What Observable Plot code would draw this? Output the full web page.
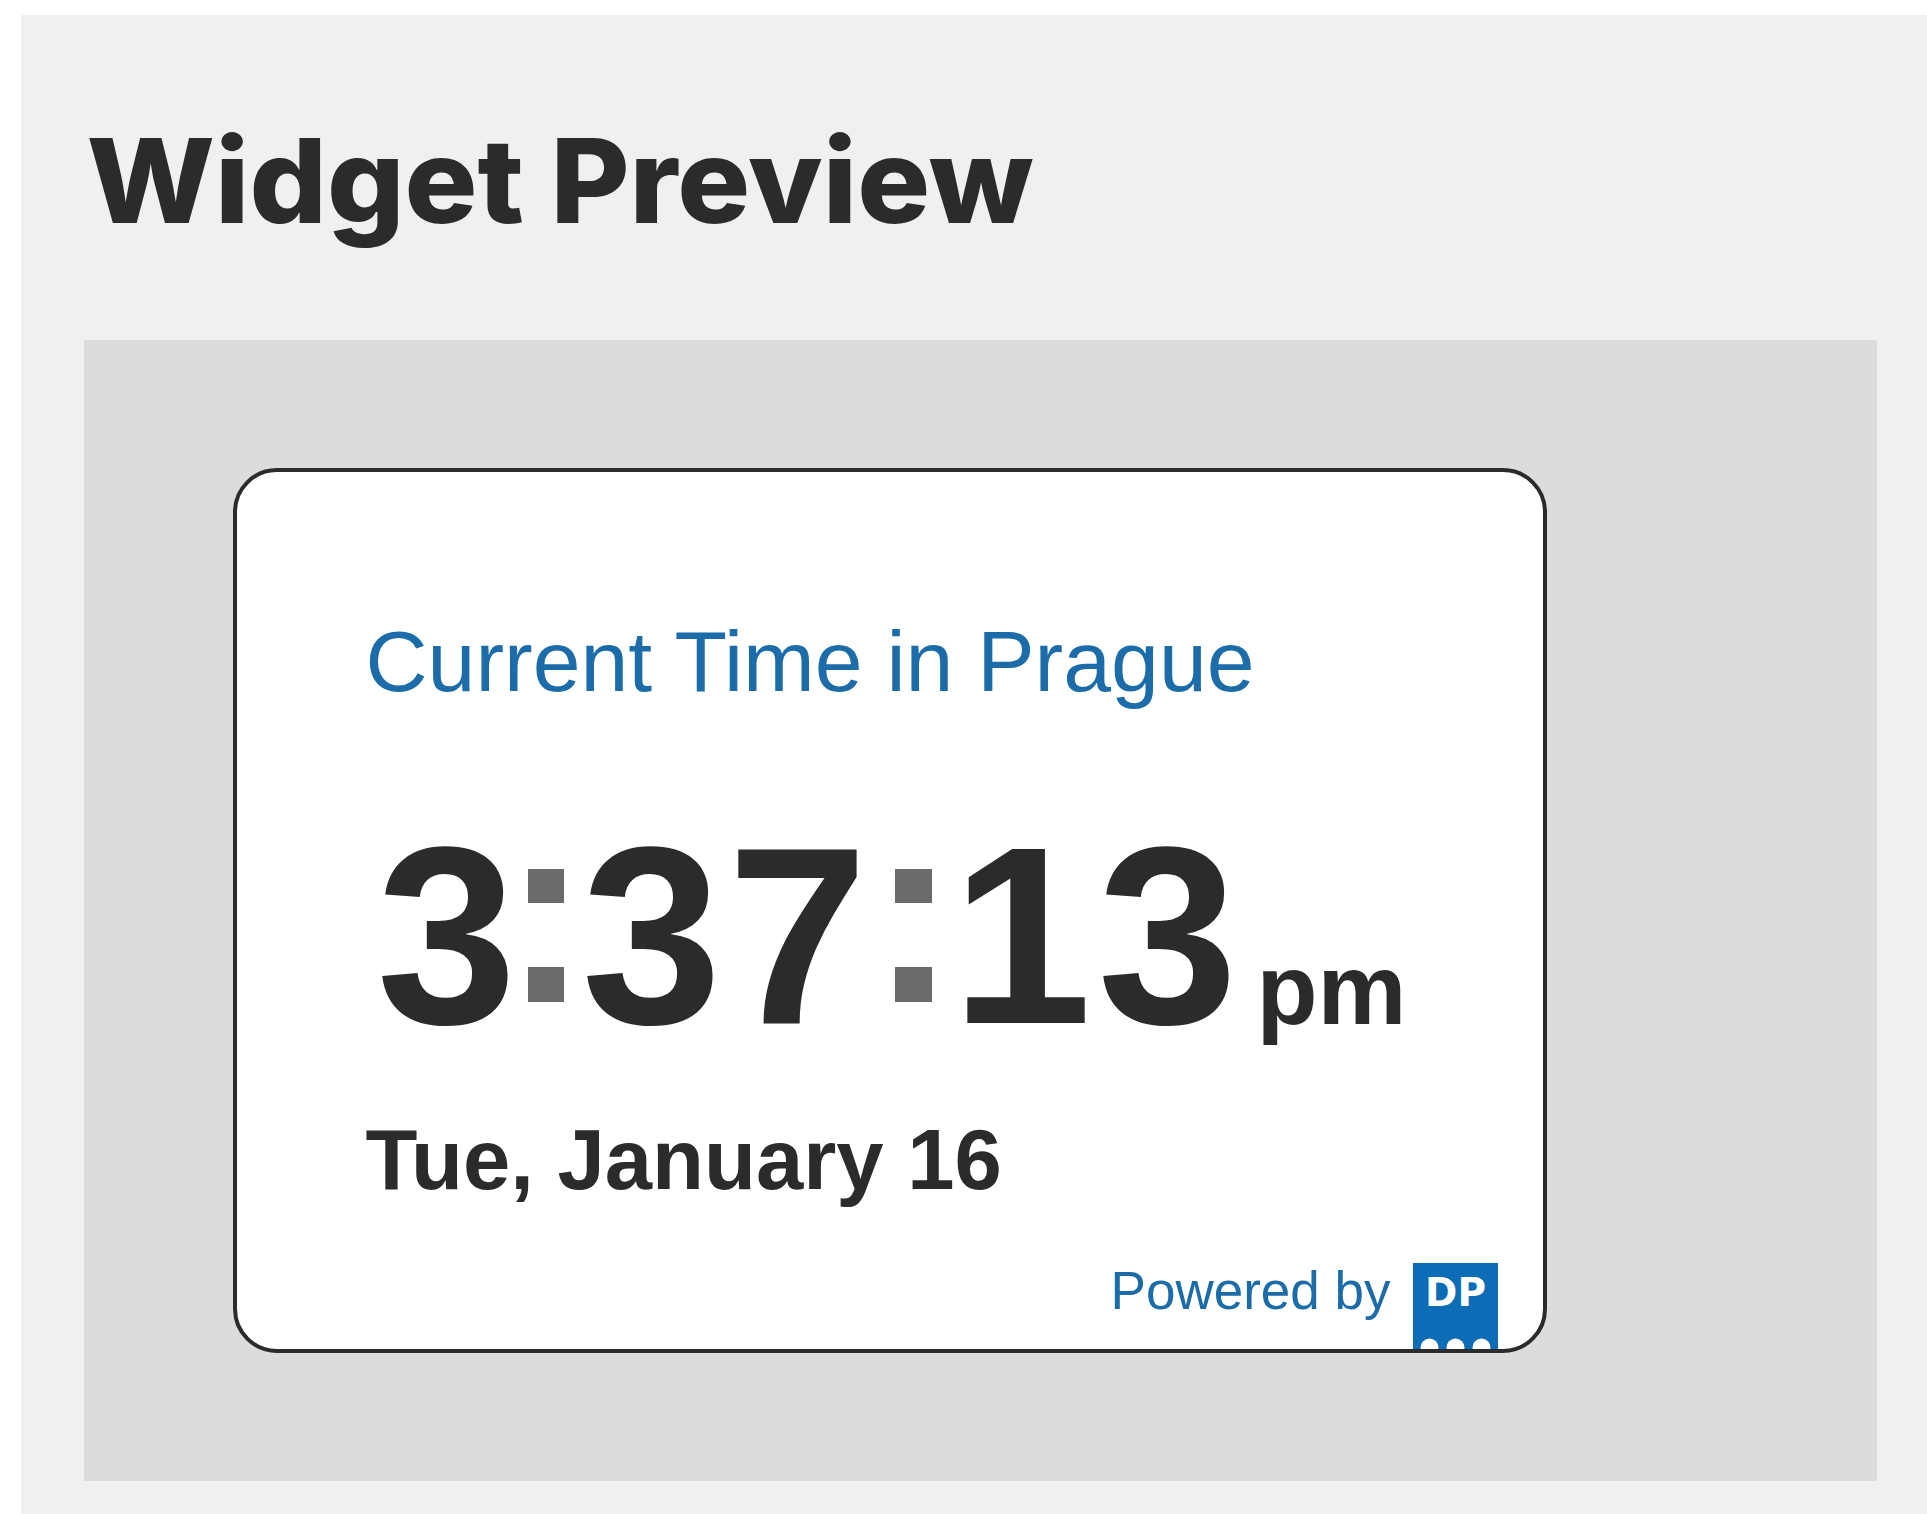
<!DOCTYPE html>
<html>
<head>
<meta charset="utf-8">
<script src="https://cdn.jsdelivr.net/npm/d3@7"></script>
<script src="https://cdn.jsdelivr.net/npm/@observablehq/plot@0.6"></script>
<style>
  html, body { margin: 0; padding: 0; background: #fff; }
  #chart svg { display: block; }
</style>
</head>
<body>
<div id="chart"></div>
<script>
// ---- data (texts and values shown in the widget) ----
const titleText = ["Widget Preview"];
const cityLabel = ["Current Time in Prague"];
const hours = ["3"];
const minutes = ["37"];
const seconds = ["13"];
const meridiem = ["pm"];
const dateLabel = ["Tue, January 16"];
const poweredBy = ["Powered by"];
const logoText = ["DP"];
const logoDots = [0, 1, 2];

// ---- layout (pixel space of the page) ----
const W = 1927, H = 1514;
const L = {
  outer: {x1: 21, x2: W, y1: 15, y2: H},
  inner: {x1: 84, x2: 1877, y1: 340, y2: 1481},
  card: {x1: 235, x2: 1545, y1: 470, y2: 1351},
  title: {x: 86, y: 222, size: 117, length: 947},
  city: {x: 365, y: 690, size: 86},
  digitSize: 252, digitBase: 1022, digitStep: 146,
  groupCenter: {h: 446, m: 651, s: 1021},
  colons: [{x1: 528, x2: 564}, {x1: 895, x2: 932}],
  colonRows: [{y1: 869, y2: 903}, {y1: 967, y2: 1002}],
  meridiem: {x: 1256, y: 1023, size: 100},
  date: {x: 365, y: 1188, size: 85},
  powered: {x: 1390, y: 1308, size: 53},
  logo: {x1: 1413, x2: 1498, y1: 1263, y2: 1351},
  logoText: {x: 1455, y: 1305, size: 39},
  dotX: [1429, 1455, 1481], dotY: 1347, dotR: 9
};

const dark = "#2b2b2b", blue = "#1b6ca8", logoBlue = "#0d6cb6";

const digits = [];
[["h", hours[0]], ["m", minutes[0]], ["s", seconds[0]]].forEach(([g, s]) => {
  s.split("").forEach((c, i) => digits.push({c, x: L.groupCenter[g] + i * L.digitStep, y: L.digitBase}));
});
const colonSquares = L.colons.flatMap(c => L.colonRows.map(r => ({...c, ...r})));

const sans = "'Liberation Sans', Arial, Helvetica, sans-serif";

const chart = Plot.plot({
  width: W, height: H, margin: 0,
  x: {domain: [0, W], range: [0, W], axis: null},
  y: {domain: [0, H], range: [0, H], axis: null},
  style: {background: "#ffffff", fontFamily: sans},
  marks: [
    Plot.rect([L.outer], {x1: "x1", x2: "x2", y1: "y1", y2: "y2", fill: "#f0f0f0"}),
    Plot.text(titleText, {x: () => L.title.x, y: () => L.title.y, text: d => d, textAnchor: "start", lineAnchor: "bottom",
      fontSize: L.title.size, fontWeight: 800, fontFamily: "Inter, 'Open Sans', sans-serif", fill: dark}),
    Plot.rect([L.inner], {x1: "x1", x2: "x2", y1: "y1", y2: "y2", fill: "#dcdcdc"}),
    Plot.rect([L.card], {x1: "x1", x2: "x2", y1: "y1", y2: "y2", fill: "#ffffff", rx: 42}),
    Plot.text(cityLabel, {x: () => L.city.x, y: () => L.city.y, text: d => d, textAnchor: "start", lineAnchor: "bottom",
      fontSize: L.city.size, fill: blue}),
    Plot.text(digits, {x: "x", y: "y", text: "c", textAnchor: "middle", lineAnchor: "bottom",
      fontSize: L.digitSize, fontWeight: 700, fill: dark}),
    Plot.rect(colonSquares, {x1: "x1", x2: "x2", y1: "y1", y2: "y2", fill: "#6b6b6b"}),
    Plot.text(meridiem, {x: () => L.meridiem.x, y: () => L.meridiem.y, text: d => d, textAnchor: "start", lineAnchor: "bottom",
      fontSize: L.meridiem.size, fontWeight: 700, fill: dark}),
    Plot.text(dateLabel, {x: () => L.date.x, y: () => L.date.y, text: d => d, textAnchor: "start", lineAnchor: "bottom",
      fontSize: L.date.size, fontWeight: 700, fill: dark}),
    Plot.text(poweredBy, {x: () => L.powered.x, y: () => L.powered.y, text: d => d, textAnchor: "end", lineAnchor: "bottom",
      fontSize: L.powered.size, fill: blue}),
    Plot.rect([L.logo], {x1: "x1", x2: "x2", y1: "y1", y2: "y2", fill: logoBlue}),
    Plot.text(logoText, {x: () => L.logoText.x, y: () => L.logoText.y, text: d => d, textAnchor: "middle", lineAnchor: "bottom",
      fontSize: L.logoText.size, fontWeight: 700, fontFamily: "'DejaVu Sans', sans-serif", fill: "#ffffff"}),
    Plot.dot(logoDots, {x: i => L.dotX[i], y: () => L.dotY, r: L.dotR, fill: "#ffffff", stroke: null}),
    Plot.rect([{x1: 1400, x2: 1510, y1: L.card.y2, y2: L.card.y2 + 20}], {x1: "x1", x2: "x2", y1: "y1", y2: "y2", fill: "#dcdcdc"}),
    Plot.rect([L.card], {x1: "x1", x2: "x2", y1: "y1", y2: "y2", fill: "none", stroke: dark, strokeWidth: 4, rx: 42})
  ]
});

document.getElementById("chart").appendChild(chart);

// stretch the title to the reference width
d3.select(chart).selectAll("text").filter(function() { return this.textContent === titleText[0]; })
  .attr("textLength", L.title.length).attr("lengthAdjust", "spacingAndGlyphs");
</script>
</body>
</html>
